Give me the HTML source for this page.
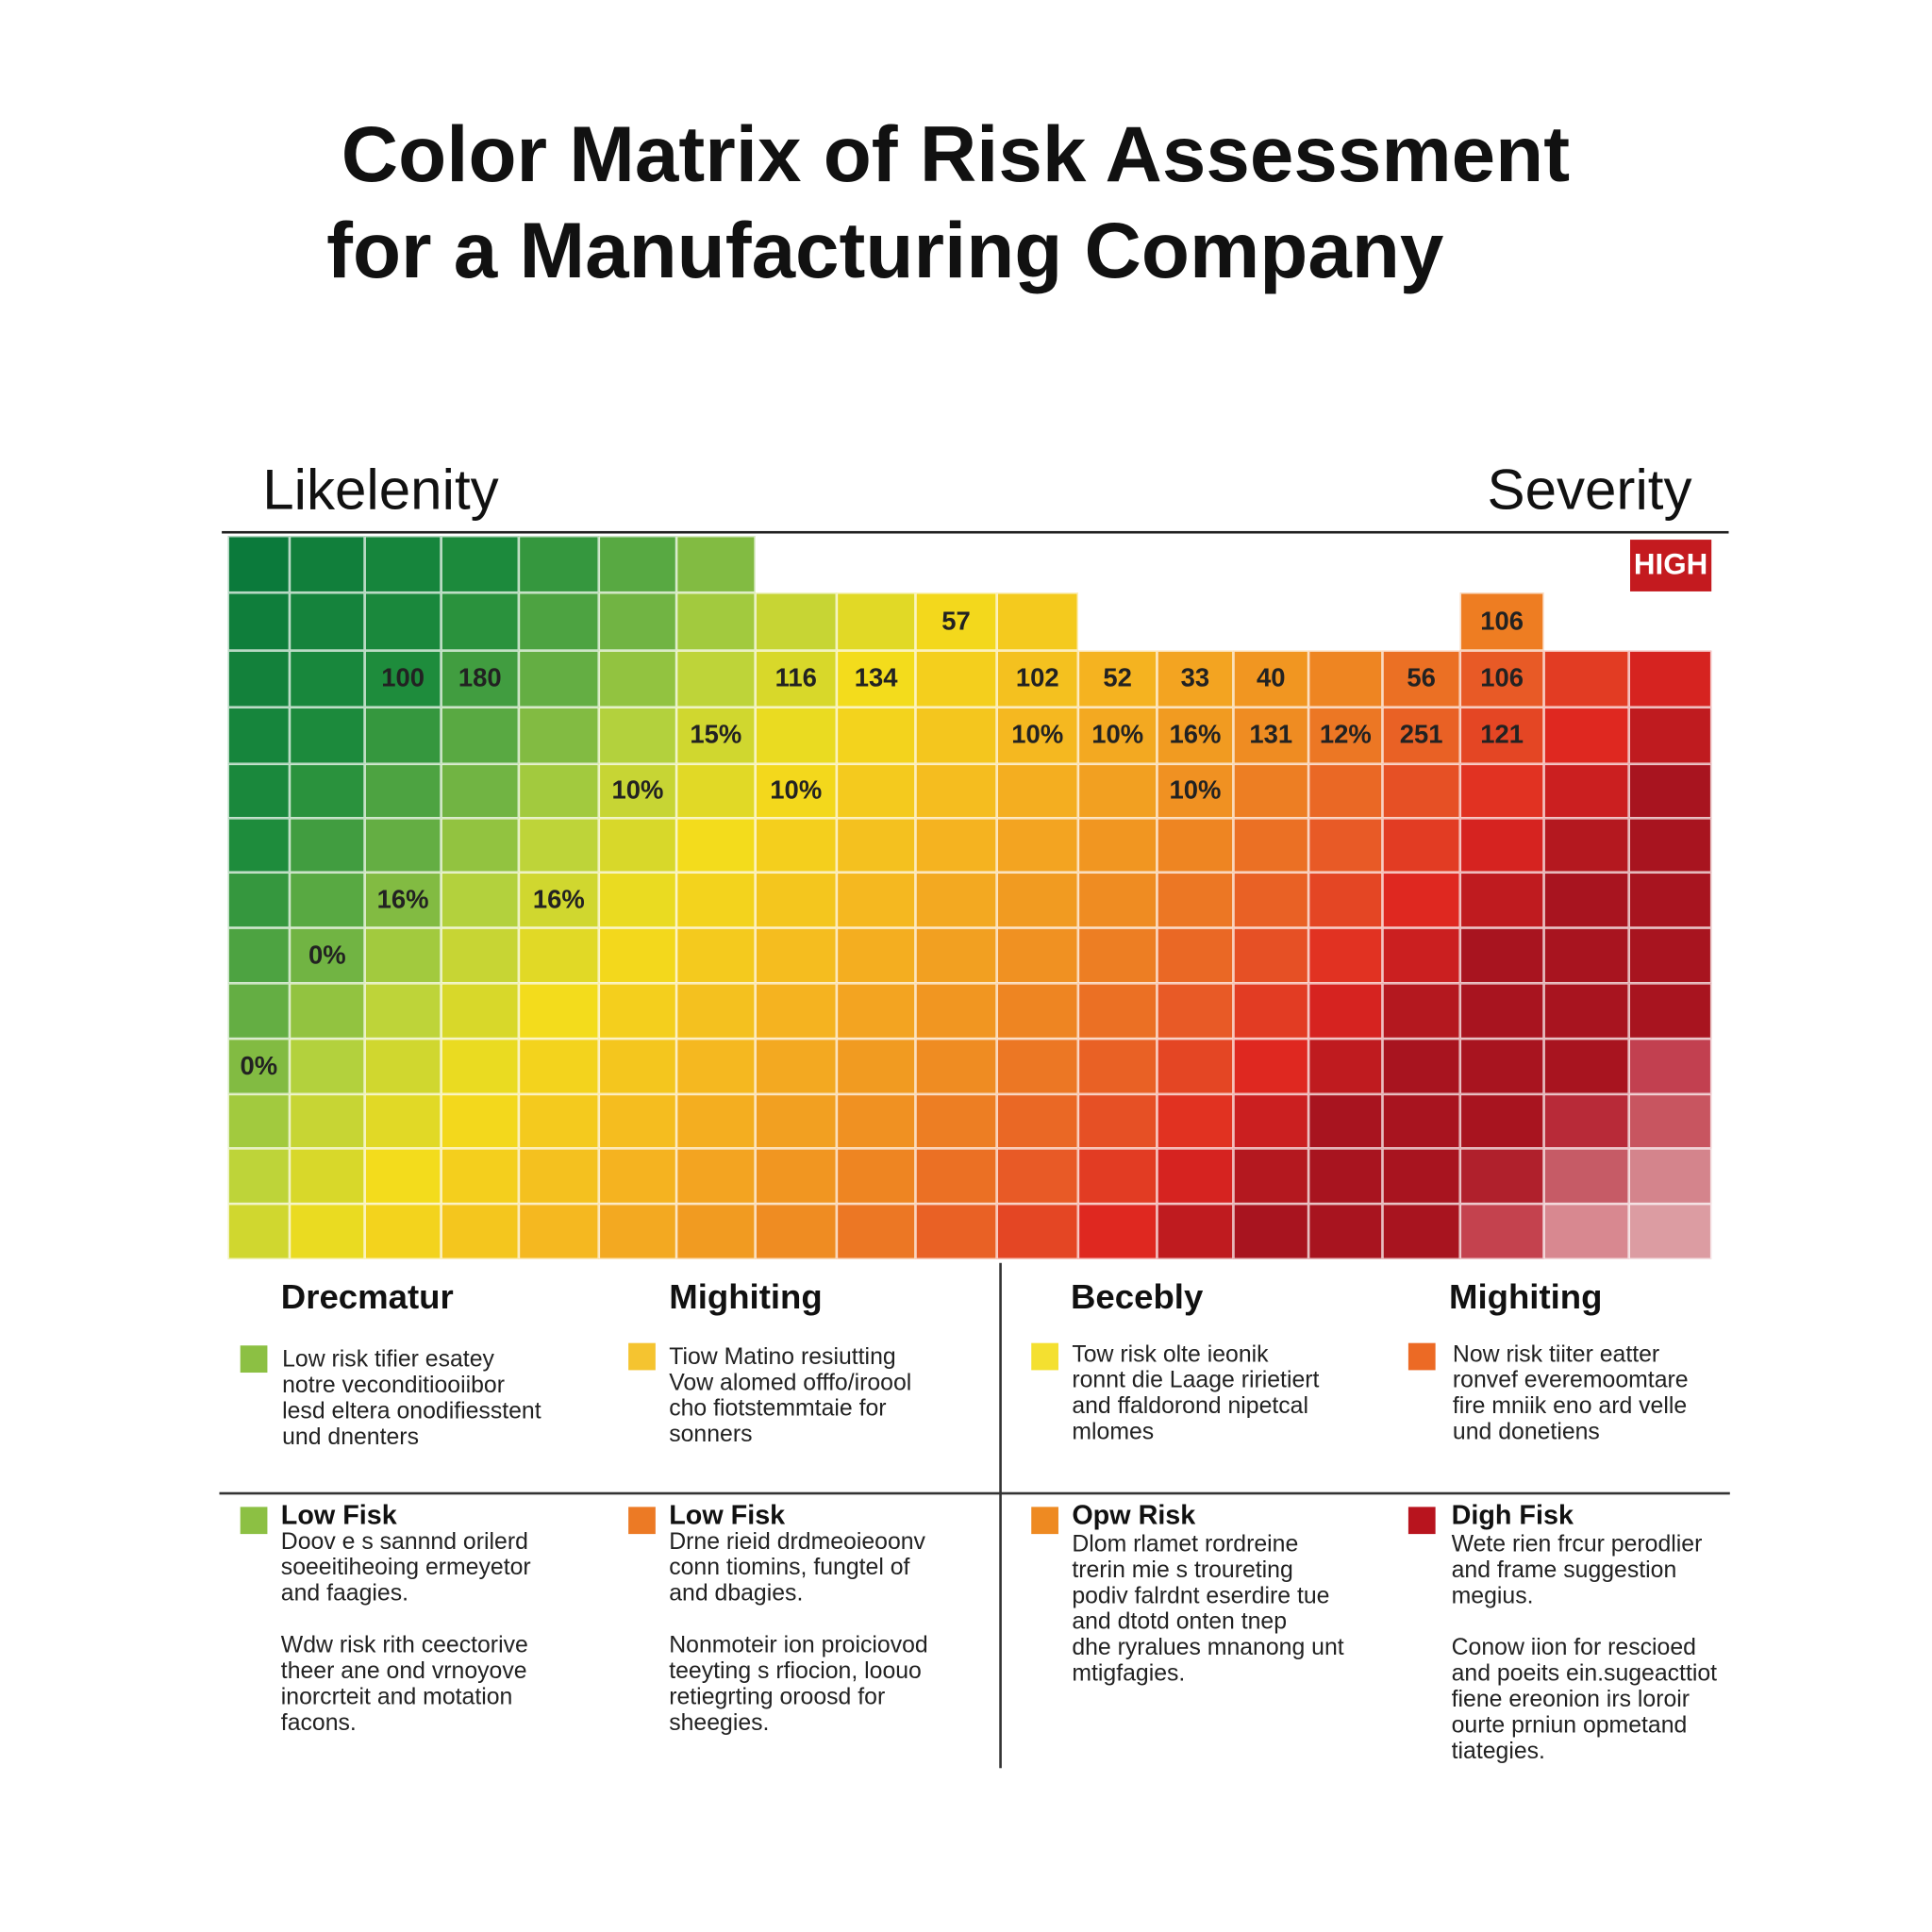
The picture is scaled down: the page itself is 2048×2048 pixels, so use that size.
<!DOCTYPE html>
<html><head><meta charset="utf-8">
<style>
html,body{margin:0;padding:0;background:#fff;}
#w{width:2048px;height:2048px;overflow:hidden;position:relative;background:#fff;}
#c{position:absolute;left:0;top:0;width:1568px;height:1568px;transform:scale(1.306122);transform-origin:0 0;font-family:"Liberation Sans",sans-serif;color:#111;}
.a{position:absolute;white-space:nowrap;}
.t{font-size:64px;font-weight:bold;letter-spacing:0px;}
.cell{position:absolute;box-sizing:border-box;border:1px solid rgba(255,255,255,0.75);font-weight:bold;font-size:21px;color:#222;display:flex;align-items:center;justify-content:center;}
.h{font-size:28px;font-weight:bold;}
.sq{position:absolute;width:22px;height:22px;}
.p{font-size:19px;line-height:21px;color:#222;white-space:pre;}
.st{font-size:22px;font-weight:bold;}
</style></head><body><div id="w"><div id="c">
<div class="a t" style="left:277px;top:88px;">Color Matrix of Risk Assessment</div>
<div class="a t" style="left:265px;top:166px;">for a Manufacturing Company</div>
<div class="a" style="left:213px;top:370px;font-size:46px;">Likelenity</div>
<div class="a" style="left:1207px;top:370px;font-size:46px;">Severity</div>
<div class="a" style="left:180px;top:431px;width:1223px;height:2px;background:#222;"></div>
<div class="a" style="left:1323px;top:438px;width:66px;height:42px;background:#c41a1f;color:#fff;font-weight:bold;font-size:24px;display:flex;align-items:center;justify-content:center;">HIGH</div>
<div id="g"></div>

<div class="a" style="left:811px;top:1025px;width:2px;height:410px;background:#333;"></div>
<div class="a" style="left:178px;top:1211px;width:1226px;height:2px;background:#333;"></div>

<div class="a h" style="left:228px;top:1037px;">Drecmatur</div>
<div class="a h" style="left:543px;top:1037px;">Mighiting</div>
<div class="a h" style="left:869px;top:1037px;">Becebly</div>
<div class="a h" style="left:1176px;top:1037px;">Mighiting</div>
<div class="sq" style="left:195px;top:1092px;background:#8cc043;"></div>
<div class="sq" style="left:510px;top:1090px;background:#f5c430;"></div>
<div class="sq" style="left:837px;top:1090px;background:#f4e030;"></div>
<div class="sq" style="left:1143px;top:1090px;background:#ec6a25;"></div>
<div class="a p" style="left:229px;top:1093px;">Low risk tifier esatey
notre veconditiooiibor
lesd eltera onodifiesstent
und dnenters</div>
<div class="a p" style="left:543px;top:1091px;">Tiow Matino resiutting
Vow alomed offfo/iroool
cho fiotstemmtaie for
sonners</div>
<div class="a p" style="left:870px;top:1089px;">Tow risk olte ieonik
ronnt die Laage ririetiert
and ffaldorond nipetcal
mlomes</div>
<div class="a p" style="left:1179px;top:1089px;">Now risk tiiter eatter
ronvef everemoomtare
fire mniik eno ard velle
und donetiens</div>

<div class="sq" style="left:195px;top:1223px;background:#8cc043;"></div>
<div class="sq" style="left:510px;top:1223px;background:#ec7a25;"></div>
<div class="sq" style="left:837px;top:1223px;background:#ee8a22;"></div>
<div class="sq" style="left:1143px;top:1223px;background:#b8141e;"></div>
<div class="a st" style="left:228px;top:1217px;">Low Fisk</div>
<div class="a st" style="left:543px;top:1217px;">Low Fisk</div>
<div class="a st" style="left:870px;top:1217px;">Opw Risk</div>
<div class="a st" style="left:1178px;top:1217px;">Digh Fisk</div>
<div class="a p" style="left:228px;top:1241px;">Doov e s sannnd orilerd
soeeitiheoing ermeyetor
and faagies.

Wdw risk rith ceectorive
theer ane ond vrnoyove
inorcrteit and motation
facons.</div>
<div class="a p" style="left:543px;top:1241px;">Drne rieid drdmeoieoonv
conn tiomins, fungtel of
and dbagies.

Nonmoteir ion proiciovod
teeyting s rfiocion, loouo
retiegrting oroosd for
sheegies.</div>
<div class="a p" style="left:870px;top:1243px;">Dlom rlamet rordreine
trerin mie s troureting
podiv falrdnt eserdire tue
and dtotd onten tnep
dhe ryralues mnanong unt
mtigfagies.</div>
<div class="a p" style="left:1178px;top:1243px;">Wete rien frcur perodlier
and frame suggestion
megius.

Conow iion for rescioed
and poeits ein.sugeacttiot
fiene ereonion irs loroir
ourte prniun opmetand
tiategies.</div>
</div></div>
<script>
var xs=[185,235,296,358,421,486,549,613,679,743,809,875,939,1001,1062,1122,1185,1253,1322,1389];
var ys=[435,481,528,574,620,664,708,753,798,843,888,932,977,1022];
var stops=[[0,[11,122,59]],[0.15,[30,140,60]],[0.25,[108,178,68]],[0.32,[184,211,60]],[0.42,[243,220,28]],[0.55,[245,181,32]],[0.68,[239,138,34]],[0.78,[232,90,38]],[0.86,[222,37,32]],[0.93,[168,20,31]],[3,[168,20,31]]];
function col(t){for(var i=0;i<stops.length-1;i++){var a=stops[i],b=stops[i+1];if(t<=b[0]){var f=(t-a[0])/(b[0]-a[0]);if(f<0)f=0;var c=[0,1,2].map(function(k){return Math.round(a[1][k]+(b[1][k]-a[1][k])*f)});return 'rgb('+c.join(',')+')';}}return 'rgb(168,20,31)';}
var lab={"1,9":"57","1,16":"106","2,2":"100","2,3":"180","2,7":"116","2,8":"134","2,10":"102","2,11":"52","2,12":"33","2,13":"40","2,15":"56","2,16":"106","3,6":"15%","3,10":"10%","3,11":"10%","3,12":"16%","3,13":"131","3,14":"12%","3,15":"251","3,16":"121","4,5":"10%","4,7":"10%","4,12":"10%","6,2":"16%","6,4":"16%","7,1":"0%","9,0":"0%"};
var pink={"9,18":"#c24050","10,18":"#c85560","11,18":"#d4848c","12,18":"#dc9ca2","10,17":"#b82a38","11,17":"#c65b66","12,17":"#d88890","12,16":"#c4424e","11,16":"#b0202c"};
var g=document.getElementById('g'),h='';
for(var r=0;r<13;r++)for(var c=0;c<19;c++){
 if(r==0&&c>6)continue;
 if(r==1&&c>10&&c!=16)continue;
 var t=c*0.045+r*0.03;var bg=pink[r+','+c]||col(t);
 if(r==1&&c==16)bg='#ee7d22';
 var L=lab[r+','+c]||'';
 h+='<div class="cell" style="left:'+xs[c]+'px;top:'+ys[r]+'px;width:'+(xs[c+1]-xs[c])+'px;height:'+(ys[r+1]-ys[r])+'px;background:'+bg+'">'+L+'</div>';
}
g.innerHTML=h;
</script>
</body></html>
